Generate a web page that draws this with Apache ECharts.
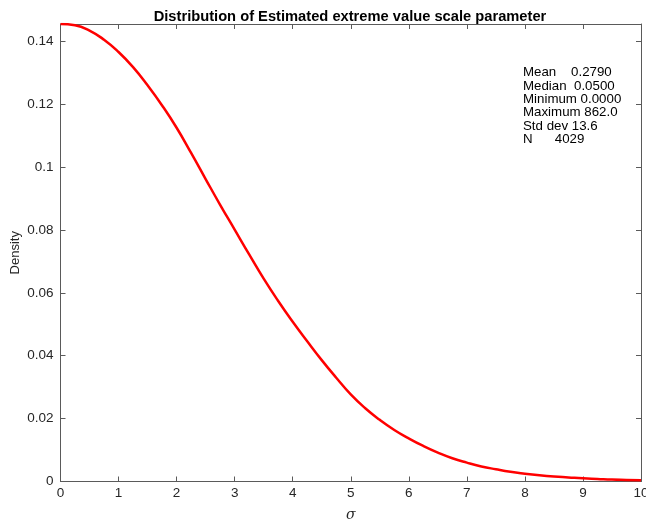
<!DOCTYPE html>
<html>
<head>
<meta charset="utf-8">
<script src="https://cdn.jsdelivr.net/npm/echarts@6/dist/echarts.min.js"></script>
<style>
  html, body { margin: 0; padding: 0; background: #fff; }
  #chart { width: 646px; height: 522px; }
</style>
</head>
<body>
<div id="chart"></div>
<script>
// Estimated density of the extreme value scale parameter
const sigmaValues = [0, 0.25, 0.5, 0.75, 1, 1.25, 1.5, 1.75, 2, 2.25, 2.5, 2.75, 3, 3.25, 3.5, 3.75, 4, 4.25, 4.5, 4.75, 5,
  5.25, 5.5, 5.75, 6, 6.25, 6.5, 6.75, 7, 7.25, 7.5, 7.75, 8, 8.25, 8.5, 8.75, 9, 9.25, 9.5, 9.75, 10];
const densityValues = [0.1455, 0.1451, 0.1434, 0.1405, 0.1366, 0.1318, 0.1260, 0.1196, 0.1125, 0.1045, 0.0962, 0.0880, 0.0801,
  0.0722, 0.0645, 0.0574, 0.0508, 0.0446, 0.0386, 0.0330, 0.0277, 0.0233, 0.0196, 0.0164, 0.0137, 0.0113, 0.0092, 0.0074,
  0.0060, 0.0048, 0.0039, 0.0031, 0.0025, 0.0020, 0.0016, 0.0013, 0.0010, 0.0008, 0.0006, 0.0005, 0.0004];
const xTicks = [0, 1, 2, 3, 4, 5, 6, 7, 8, 9, 10];
const yTicks = [0, 0.02, 0.04, 0.06, 0.08, 0.1, 0.12, 0.14];
const statLines = ['Mean    0.2790', 'Median  0.0500', 'Minimum 0.0000', 'Maximum 862.0', 'Std dev 13.6', 'N      4029'];

const FONT = '"Liberation Sans", Arial, Helvetica, sans-serif';
const AXIS_COLOR = '#5a5a5a';
const TEXT_COLOR = '#262626';

const chart = echarts.init(document.getElementById('chart'), null, { renderer: 'canvas' });

const curve = sigmaValues.map((s, i) => [s, densityValues[i]]);

const axisLineStyle = { show: true, onZero: false, lineStyle: { color: AXIS_COLOR, width: 1 } };
const tickStyle = { show: true, inside: true, length: 5, lineStyle: { color: AXIS_COLOR, width: 1 } };

function xAxisDef(pos, withLabels) {
  return {
    type: 'value', position: pos, min: xTicks[0], max: xTicks[xTicks.length - 1], interval: 1,
    axisLine: axisLineStyle, axisTick: tickStyle, splitLine: { show: false },
    axisLabel: { show: withLabels, color: TEXT_COLOR, fontSize: 13.5, fontFamily: FONT, margin: 5 },
    name: withLabels ? 'σ' : '', nameLocation: 'middle', nameGap: 27, nameMoveOverlap: false,
    nameTextStyle: { color: TEXT_COLOR, fontSize: 14, fontFamily: '"DejaVu Serif", "Liberation Serif", serif', fontStyle: 'italic' }
  };
}
function yAxisDef(pos, withLabels) {
  return {
    type: 'value', position: pos, min: yTicks[0], max: 0.1455, interval: 0.02,
    axisLine: axisLineStyle, axisTick: tickStyle, splitLine: { show: false },
    axisLabel: { show: withLabels, color: TEXT_COLOR, fontSize: 13.5, fontFamily: FONT, margin: 7, showMaxLabel: false },
    name: withLabels ? 'Density' : '', nameLocation: 'middle', nameGap: 39, nameRotate: 90, nameMoveOverlap: false,
    nameTextStyle: { color: TEXT_COLOR, fontSize: 13, fontFamily: FONT }
  };
}

chart.setOption({
  backgroundColor: '#fff',
  animation: false,
  title: {
    text: 'Distribution of Estimated extreme value scale parameter',
    left: 345, top: 4, textAlign: 'center',
    textStyle: { fontSize: 14.7, fontWeight: 'bold', color: '#000', fontFamily: FONT }
  },
  grid: { left: 60.5, right: 5, top: 24, bottom: 40.5, containLabel: false, outerBoundsMode: 'none' },
  xAxis: [xAxisDef('bottom', true), xAxisDef('top', false)],
  yAxis: [yAxisDef('left', true), yAxisDef('right', false)],
  graphic: [{
    type: 'text', left: 523, top: 66,
    style: { text: statLines.join('\n'), font: '13.3px ' + FONT, lineHeight: 13.3, fill: '#000' }
  }],
  series: [{
    type: 'line', data: curve, smooth: true, showSymbol: false,
    lineStyle: { color: '#ff0000', width: 2.5 }, clip: true
  }]
});
</script>
</body>
</html>
